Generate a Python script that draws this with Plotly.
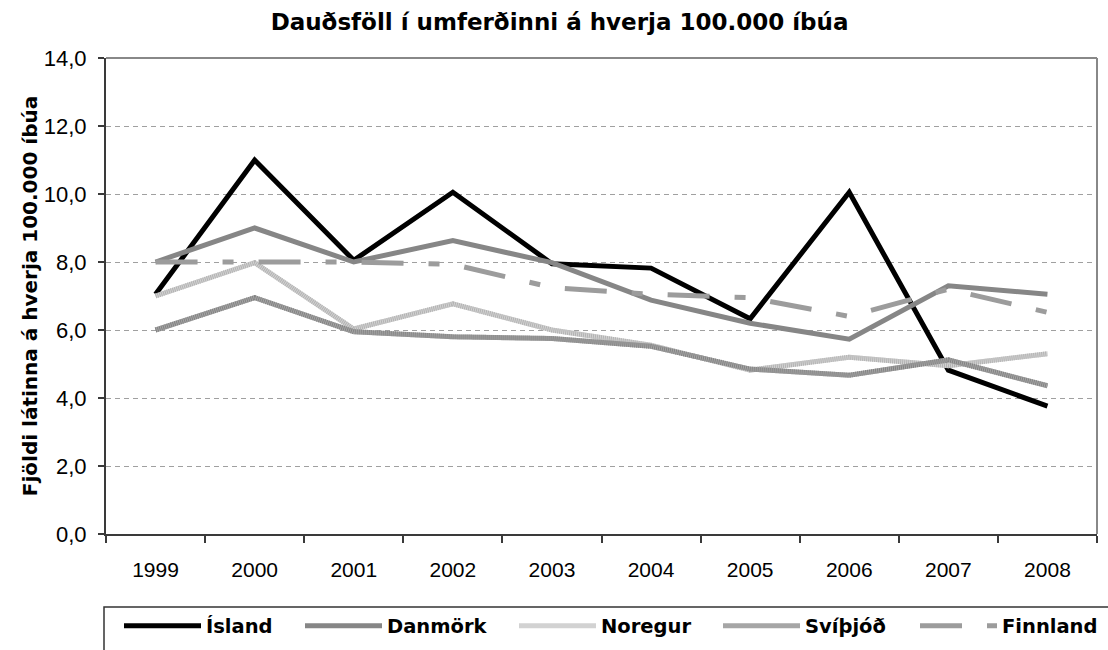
import plotly.graph_objects as go

years = ["1999", "2000", "2001", "2002", "2003", "2004", "2005", "2006", "2007", "2008"]
island = [7.05, 11.0, 8.05, 10.05, 7.95, 7.82, 6.33, 10.05, 4.82, 3.76]
danmork = [8.0, 9.0, 8.0, 8.63, 7.98, 6.88, 6.2, 5.73, 7.3, 7.05]
noregur = [7.0, 7.98, 6.03, 6.77, 6.0, 5.55, 4.82, 5.2, 4.95, 5.3]
svithjod = [6.0, 6.95, 5.95, 5.8, 5.75, 5.52, 4.85, 4.67, 5.12, 4.36]
finnland = [8.0, 8.0, 8.0, 7.93, 7.25, 7.05, 6.95, 6.4, 7.2, 6.52]

title_text = "Dauðsföll í umferðinni á hverja 100.000 íbúa"
ytitle_text = "Fjöldi látinna á hverja 100.000 íbúa"
ytick_vals = [0, 2, 4, 6, 8, 10, 12, 14]

BOLD = "DejaVu Sans"
REG = "Liberation Sans, Arial, sans-serif"

fig = go.Figure()

def add(name, vals, color, legend, dash="solid", overlay=None):
    fig.add_trace(go.Scatter(
        x=years, y=vals, name=name, mode="lines",
        line=dict(color=color, width=5, dash=dash),
        legend=legend, hoverinfo="skip"))
    if overlay:
        fig.add_trace(go.Scatter(
            x=years, y=vals, mode="lines", showlegend=False,
            line=dict(color=overlay, width=5, dash="1px,1px"),
            hoverinfo="skip"))

add("Ísland", island, "#000000", "legend")
add("Danmörk", danmork, "#868686", "legend2")
add("Noregur", noregur, "#d2d2d2", "legend3", overlay="#b2b2b2")
add("Svíþjóð", svithjod, "#a6a6a6", "legend4", overlay="#828282")
add("Finnland", finnland, "#9c9c9c", "legend5", dash="42px,25px,11px,25px")

L, R, T, B = 106, 11, 58, 116
W, H = 1108, 650
pw = W - L - R
ph = H - T - B

def px_x(p):
    return (p - L) / pw

def px_y(p):
    return (H - B - p) / ph

leg_common = dict(orientation="h", xanchor="left", yanchor="middle",
                  bgcolor="rgba(0,0,0,0)", borderwidth=0, itemwidth=77,
                  font=dict(family=BOLD, size=19.5, color="#000000", weight="bold"))
legend_px = [119, 300, 514, 718, 915]
legend_keys = ["legend", "legend2", "legend3", "legend4", "legend5"]
leg_layout = {}
for k, p in zip(legend_keys, legend_px):
    leg_layout[k] = dict(x=px_x(p), y=px_y(626), **leg_common)

fig.update_layout(
    width=W, height=H,
    margin=dict(l=L, r=R, t=T, b=B, autoexpand=False),
    paper_bgcolor="white", plot_bgcolor="white",
    separators=",.",
    title=dict(text=title_text, x=0.505, xref="container", y=1 - 22 / H,
               yref="container", xanchor="center", yanchor="middle",
               font=dict(family=BOLD, size=23, color="#000000", weight="bold")),
    xaxis=dict(type="category", range=[-0.5, 9.5], showgrid=False,
               showline=True, linecolor="#3a3a3a", linewidth=2,
               ticks="outside", ticklen=7, tickcolor="#3a3a3a", tickwidth=1.5,
               tickson="boundaries", ticklabelstandoff=16,
               tickfont=dict(family=REG, size=21, color="#000000"),
               zeroline=False),
    yaxis=dict(range=[0, 14], tickvals=ytick_vals, tickformat=".1f",
               showgrid=True, gridcolor="#a0a0a0", gridwidth=1, griddash="5px,4px",
               showline=True, linecolor="#3a3a3a", linewidth=2,
               ticks="outside", ticklen=6, tickcolor="#3a3a3a", tickwidth=1.5,
               ticklabelstandoff=7, zeroline=False,
               tickfont=dict(family=REG, size=22, color="#000000"),
               title=dict(text=ytitle_text, standoff=1,
                          font=dict(family=BOLD, size=20, color="#000000", weight="bold"))),
    showlegend=True,
    **leg_layout,
    shapes=[
        dict(type="line", xref="paper", yref="paper", x0=0, x1=1, y0=1, y1=1,
             line=dict(color="#888888", width=2)),
        dict(type="line", xref="paper", yref="paper", x0=1, x1=1, y0=0, y1=1,
             line=dict(color="#888888", width=2)),
        dict(type="rect", xref="paper", yref="paper",
             x0=px_x(104), x1=px_x(1120), y0=px_y(607), y1=px_y(665),
             line=dict(color="#333333", width=1.5), fillcolor="rgba(0,0,0,0)"),
    ],
)

fig.write_html("out.html", config={"displayModeBar": False},
               post_script="document.body.style.margin='0';document.body.style.padding='0';")
